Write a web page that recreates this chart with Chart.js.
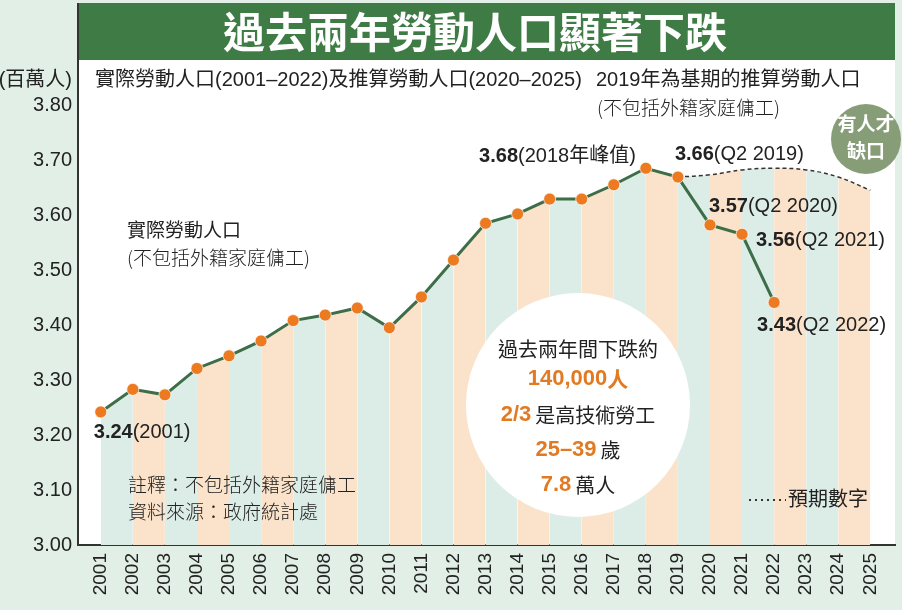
<!DOCTYPE html>
<html lang="zh-Hant">
<head>
  <meta charset="UTF-8" />
  <title>過去兩年勞動人口顯著下跌</title>
  <script src="https://cdn.jsdelivr.net/npm/chart.js"></script>
  <style>
    html, body { margin: 0; padding: 0; background: #e2efe7; }
    #wrap { width: 902px; height: 610px; }
  </style>
</head>
<body>
  <div id="wrap"><canvas id="chart" width="902" height="610"></canvas></div>

  <script>
    // data (millions of people)
    const years = [2001, 2002, 2003, 2004, 2005, 2006, 2007, 2008, 2009, 2010, 2011, 2012, 2013,
                   2014, 2015, 2016, 2017, 2018, 2019, 2020, 2021, 2022, 2023, 2024, 2025];
    const actualYears = [2001, 2002, 2003, 2004, 2005, 2006, 2007, 2008, 2009, 2010, 2011,
                         2012, 2013, 2014, 2015, 2016, 2017, 2018, 2019, 2020, 2021, 2022];
    const actualValues = [3.242, 3.283, 3.273, 3.321, 3.344, 3.371, 3.408, 3.418, 3.431, 3.395, 3.451,
                          3.518, 3.585, 3.602, 3.629, 3.629, 3.655, 3.685, 3.669, 3.582, 3.565, 3.441];
    const projectedYears = [2019, 2020, 2021, 2022, 2023, 2024, 2025];
    const projectedValues = [3.669, 3.673, 3.682, 3.685, 3.682, 3.669, 3.645];
    const yTicks = [3.00, 3.10, 3.20, 3.30, 3.40, 3.50, 3.60, 3.70, 3.80];

    const noteYears = [2001, 2018, 2019, 2020, 2021, 2022];
    const noteBold = ['3.24', '3.68', '3.66', '3.57', '3.56', '3.43'];
    const noteRest = ['(2001)', '(2018年峰值)', '(Q2 2019)', '(Q2 2020)', '(Q2 2021)', '(Q2 2022)'];

    const SANS = '"Liberation Sans", "Noto Sans CJK TC", sans-serif';
    const CJK = '"Noto Sans CJK TC", sans-serif';
    const BG = '#e2efe7';
    const BLUE = '#dcede8';
    const PEACH = '#fbe3cb';
    const ORANGE = '#e27a22';
    const INK = '#222';

    const toXY = (xs, ys) => xs.map((x, i) => ({ x: x, y: ys[i] }));
    const stripe = (yearsOf) => (c) => ((yearsOf[c.p0DataIndex] - 2001) % 2 ? PEACH : BLUE);

    const histYears = actualYears.filter(y => y <= 2019);
    const histValues = actualValues.slice(0, histYears.length);

    // mixed-style text, pieces drawn one after another
    function runs(ctx, parts, x, y, align) {
      let total = 0;
      parts.forEach(p => {
        ctx.font = p.font;
        p.w = ctx.measureText(p.text).width + (p.gap || 0);
        total += p.w;
      });
      let cx = align === 'center' ? x - total / 2 : align === 'right' ? x - total : x;
      ctx.textAlign = 'left';
      ctx.textBaseline = 'middle';
      parts.forEach(p => {
        ctx.font = p.font;
        ctx.fillStyle = p.color || INK;
        ctx.fillText(p.text, cx, y);
        cx += p.w;
      });
    }

    function text(ctx, str, x, y, font, color, align) {
      ctx.font = font;
      ctx.fillStyle = color || INK;
      ctx.textAlign = align || 'left';
      ctx.textBaseline = 'middle';
      ctx.fillText(str, x, y);
    }

    const backdrop = {
      id: 'backdrop',
      beforeDraw(chart) {
        const { ctx, chartArea: a } = chart;
        ctx.save();
        ctx.fillStyle = BG;
        ctx.fillRect(0, 0, chart.width, chart.height);
        ctx.fillStyle = '#fff';
        ctx.fillRect(a.left, 60, a.right - a.left, a.bottom - 60);
        ctx.fillStyle = '#3f7b45';
        ctx.fillRect(a.left, 3, a.right - a.left, 57);
        text(ctx, '過去兩年勞動人口顯著下跌', 475, 32, 'bold 42px ' + CJK, '#fff', 'center');
        ctx.restore();
      },
      afterDraw(chart) {
        const { ctx, chartArea: a, scales: { x, y } } = chart;
        ctx.save();

        // y axis line runs up beside the title bar
        ctx.strokeStyle = '#333';
        ctx.lineWidth = 2;
        ctx.beginPath();
        ctx.moveTo(a.left, 3);
        ctx.lineTo(a.left, a.bottom);
        ctx.stroke();

        text(ctx, '(百萬人)', 72, 80, '20px ' + SANS, INK, 'right');
        text(ctx, '實際勞動人口(2001–2022)及推算勞動人口(2020–2025)', 95, 80, '20px ' + SANS);
        text(ctx, '2019年為基期的推算勞動人口', 596, 80, '20px ' + SANS);
        text(ctx, '(不包括外籍家庭傭工)', 597, 108, '300 19px ' + CJK);

        text(ctx, '實際勞動人口', 127, 230, '19px ' + CJK);
        text(ctx, '(不包括外籍家庭傭工)', 127, 258, '300 19px ' + CJK);
        text(ctx, '註釋：不包括外籍家庭傭工', 128, 485, '300 19px ' + CJK);
        text(ctx, '資料來源：政府統計處', 128, 512, '300 19px ' + CJK);

        // badge
        ctx.fillStyle = '#869d78';
        ctx.beginPath();
        ctx.arc(866, 139, 35, 0, Math.PI * 2);
        ctx.fill();
        text(ctx, '有人才', 866, 124, 'bold 19px ' + CJK, '#fff', 'center');
        text(ctx, '缺口', 866, 151, 'bold 19px ' + CJK, '#fff', 'center');

        // summary bubble
        ctx.fillStyle = '#fff';
        ctx.beginPath();
        ctx.arc(578, 405, 112, 0, Math.PI * 2);
        ctx.fill();
        const num = 'bold 22px ' + SANS;
        const cjk = '20px ' + CJK;
        text(ctx, '過去兩年間下跌約', 578, 349, cjk, INK, 'center');
        runs(ctx, [{ text: '140,000', font: num, color: ORANGE }, { text: '人', font: 'bold 21px ' + CJK, color: ORANGE }], 578, 379, 'center');
        runs(ctx, [{ text: '2/3', font: num, color: ORANGE, gap: 4 }, { text: '是高技術勞工', font: cjk }], 578, 415, 'center');
        runs(ctx, [{ text: '25–39', font: num, color: ORANGE, gap: 4 }, { text: '歲', font: cjk }], 578, 450, 'center');
        runs(ctx, [{ text: '7.8', font: num, color: ORANGE, gap: 4 }, { text: '萬人', font: cjk }], 578, 485, 'center');

        // legend for the dashed line
        ctx.strokeStyle = '#333';
        ctx.lineWidth = 2;
        ctx.setLineDash([2, 4]);
        ctx.beginPath();
        ctx.moveTo(749, 500);
        ctx.lineTo(786, 500);
        ctx.stroke();
        ctx.setLineDash([]);
        text(ctx, '預期數字', 788, 498, '20px ' + CJK);

        // value callouts, placed next to their points
        const place = {
          2001: [-7, 21, 'left'], 2018: [-10, -12, 'right'], 2019: [-3, -23, 'left'],
          2020: [-1, -18, 'left'], 2021: [14, 6, 'left'], 2022: [-17, 23, 'left']
        };
        noteYears.forEach((yr, i) => {
          const v = actualValues[actualYears.indexOf(yr)];
          const [dx, dy, al] = place[yr];
          runs(ctx, [
            { text: noteBold[i], font: 'bold 20px ' + SANS },
            { text: noteRest[i], font: '20px ' + SANS }
          ], x.getPixelForValue(yr) + dx, y.getPixelForValue(v) + dy, al);
        });

        ctx.restore();
      }
    };

    new Chart(document.getElementById('chart'), {
      type: 'line',
      data: {
        datasets: [
          {
            data: toXY(actualYears, actualValues),
            borderColor: '#3d6e48',
            borderWidth: 3,
            tension: 0,
            pointRadius: 6,
            pointBackgroundColor: '#ec7a21',
            pointBorderColor: 'rgba(255,255,255,0.7)',
            pointBorderWidth: 1,
            fill: false
          },
          {
            data: toXY(projectedYears, projectedValues),
            borderColor: '#333',
            borderWidth: 1.5,
            borderDash: [4, 3],
            tension: 0.4,
            pointRadius: 0,
            fill: false
          },
          {
            data: toXY(projectedYears, projectedValues),
            borderColor: 'rgba(0,0,0,0)',
            borderWidth: 0,
            tension: 0.4,
            pointRadius: 0,
            backgroundColor: BLUE,
            fill: 'start',
            segment: { backgroundColor: stripe(projectedYears) }
          },
          {
            data: toXY(histYears, histValues),
            borderColor: 'rgba(0,0,0,0)',
            borderWidth: 0,
            tension: 0,
            pointRadius: 0,
            backgroundColor: BLUE,
            fill: 'start',
            segment: { backgroundColor: stripe(histYears) }
          }
        ]
      },
      options: {
        responsive: false,
        animation: false,
        events: [],
        layout: { padding: { top: 105, left: 0, right: 0, bottom: 0 } },
        plugins: {
          legend: { display: false },
          tooltip: { enabled: false }
        },
        scales: {
          x: {
            type: 'linear',
            min: 2000.29,
            max: 2025.77,
            grid: { display: false, drawTicks: false },
            border: { display: true, color: '#333', width: 2 },
            afterBuildTicks: (s) => { s.ticks = years.map(v => ({ value: v })); },
            afterFit: (s) => { s.height = 65; s.paddingLeft = 0; s.paddingRight = 0; },
            ticks: {
              minRotation: 90,
              maxRotation: 90,
              padding: 8,
              color: INK,
              font: { family: SANS, size: 19 },
              callback: (v) => String(v)
            }
          },
          y: {
            min: 3.0,
            max: 3.8,
            grid: { display: false, drawTicks: false },
            border: { display: false },
            afterBuildTicks: (s) => { s.ticks = yTicks.map(v => ({ value: v })); },
            afterFit: (s) => { s.width = 78; },
            ticks: {
              padding: 6,
              color: INK,
              font: { family: SANS, size: 20 },
              callback: (v) => v.toFixed(2)
            }
          }
        }
      },
      plugins: [backdrop]
    });
  </script>
</body>
</html>
